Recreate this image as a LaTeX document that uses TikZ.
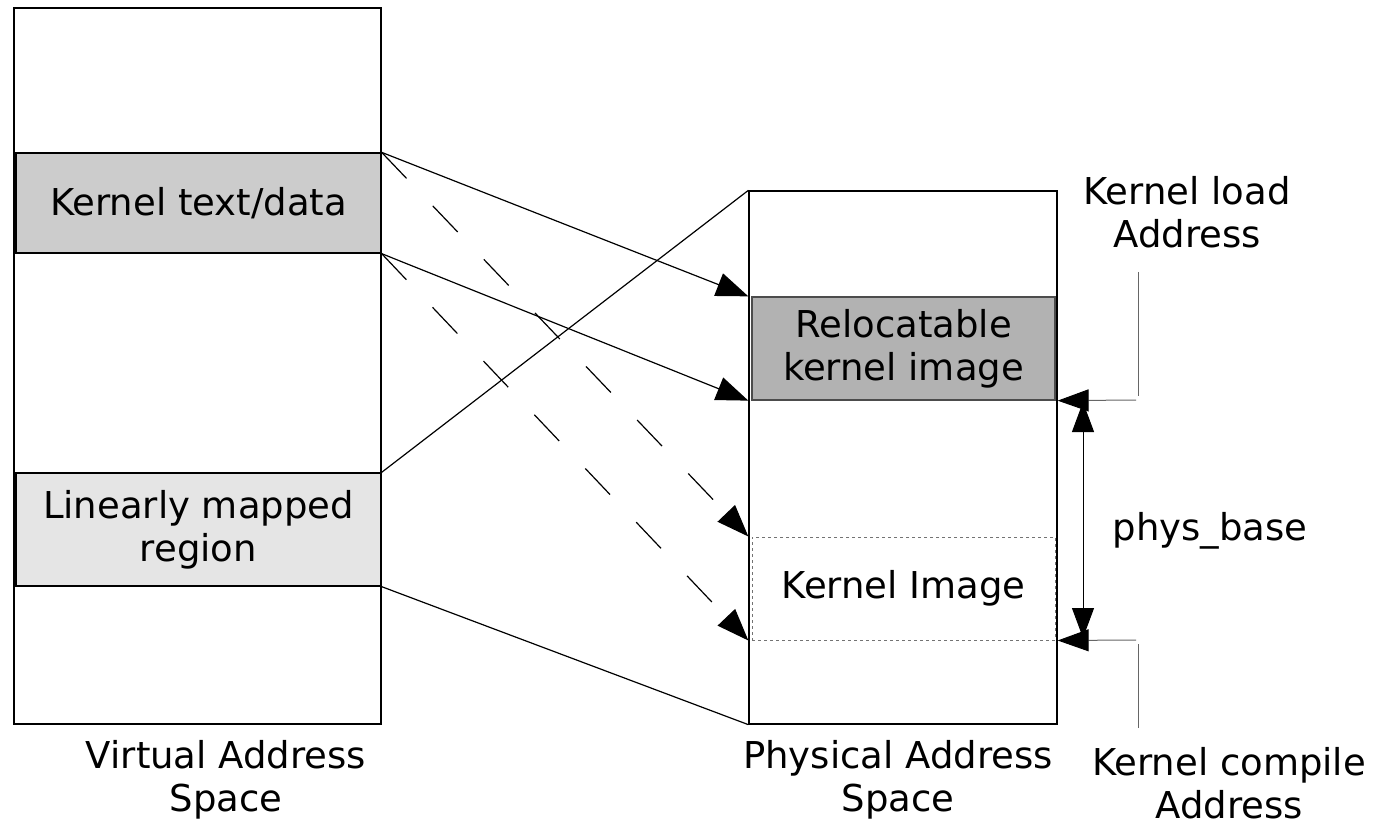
\documentclass[tikz,border=0pt]{standalone}
\usepackage{fontspec}
\setmainfont{DejaVu Sans}
\usetikzlibrary{arrows.meta}
\begin{document}
\begin{tikzpicture}[x=1pt,y=-1pt,
  box/.style={draw=black, line width=1.3pt, inner sep=0pt, align=center},
  lbl/.style={align=center, inner sep=0pt},
  conn/.style={line width=1.2pt},
  dashconn/.style={line width=1.2pt, dash pattern=on 36pt off 38pt},
  tip/.style={-{Triangle[length=32pt,width=24pt]}},
  mtip/.style={-{Triangle[length=31pt,width=22pt,fill=black,color=black]}},
  mark line/.style={line width=1pt, black!60},
  every node/.style={font=\fontsize{37}{43}\selectfont}]
\useasboundingbox (0,0) rectangle (1385,829);
% left column
\node[box, minimum width=367pt, minimum height=716pt] (vbox) at (197.5,366) {};
\node[box, fill=black!20, minimum width=365pt, minimum height=100pt] (ktd) at (198.5,203) {Kernel text/data};
\node[box, fill=black!10, minimum width=365pt, minimum height=113pt] (lin) at (198.5,529.5) {Linearly mapped\\region};
% right column
\node[box, minimum width=308pt, minimum height=533pt] (pbox) at (903,457.5) {};
\node[box, draw=black!70, fill=black!30, minimum width=303pt, minimum height=103pt] (rel) at (903.5,348.5) {Relocatable\\kernel image};
\node[box, draw=black!55, dashed, line width=1pt, minimum width=303pt, minimum height=103pt] (kimg) at (903.5,588.5) {Kernel Image};
% labels
\node[lbl] (vlab) at (226,780) {Virtual Address\\Space};
\node[lbl] (plab) at (898,780) {Physical Address\\Space};
\node[lbl] (kcl) at (1229,783) {Kernel compile\\Address};
\node[lbl] (kll) at (1187,212) {Kernel load\\Address};
\node[lbl] (pb) at (1210,531) {phys\_base};
% mapping arrows
\coordinate (t1) at (pbox.west |- rel.north);
\coordinate (t2) at (pbox.west |- rel.south);
\coordinate (t3) at (pbox.west |- kimg.north);
\coordinate (t4) at (pbox.west |- kimg.south);
\draw[conn, tip] (ktd.north east) -- (t1);
\draw[conn, tip] (ktd.south east) -- (t2);
\draw[dashconn, tip] (ktd.north east) -- (t3);
\draw[dashconn, tip] (ktd.south east) -- (t4);
\draw[conn] (lin.north east) -- (pbox.north west);
\draw[conn] (lin.south east) -- (pbox.south west);
% right side markers
\coordinate (kltop) at (1138,272);
\coordinate (klbot) at (1138,396);
\coordinate (klh) at (1136,400);
\coordinate (kctop) at (1138,644);
\coordinate (kcbot) at (1138,728);
\coordinate (kch) at (1136,640);
\draw[mark line] (kltop) -- (klbot);
\draw[mark line, mtip] (klh) -- (pbox.east |- rel.south);
\draw[mark line] (kcbot) -- (kctop);
\draw[mark line, mtip] (kch) -- (pbox.east |- kimg.south);
\coordinate (da) at (1083,402);
\coordinate (db) at (1083,638);
\draw[line width=1pt, arrows={{Triangle[length=30pt,width=22pt]}-{Triangle[length=30pt,width=22pt]}}] (da) -- (db);
\end{tikzpicture}
\end{document}
